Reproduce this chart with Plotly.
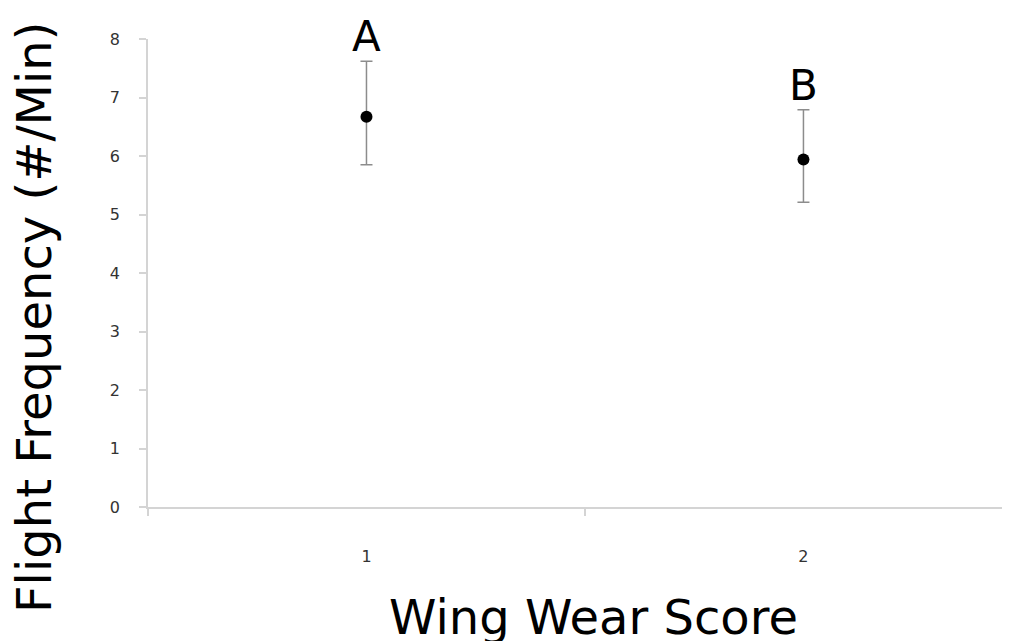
import plotly.graph_objects as go

# wing wear score groups and flight frequency (mean +/- error)
scores = [1, 2]
score_labels = ["1", "2"]
freq_mean = [6.67, 5.94]
err_upper = [0.95, 0.85]
err_lower = [0.82, 0.73]
group_letters = ["A", "B"]
y_ticks = [0, 1, 2, 3, 4, 5, 6, 7, 8]

AXIS_GREY = "#d4d4d4"
FONT = "DejaVu Sans"

fig = go.Figure()
fig.add_trace(
    go.Scatter(
        x=scores, y=freq_mean, mode="markers",
        marker=dict(color="black", size=12),
        error_y=dict(
            type="data", symmetric=False, array=err_upper, arrayminus=err_lower,
            color="#8c8c8c", thickness=1.5, width=6,
        ),
        showlegend=False,
    )
)

for x, m, e, letter in zip(scores, freq_mean, err_upper, group_letters):
    fig.add_annotation(
        x=x, y=m + e, text=letter, showarrow=False,
        xanchor="center", yanchor="bottom", yshift=-2,
        font=dict(family=FONT, size=42, color="black"),
    )

# axis titles placed as annotations (the originals sit off-centre)
fig.add_annotation(
    x=0.5115, xref="paper", y=-0.236, yref="paper", text="Wing Wear Score",
    showarrow=False, xanchor="center", yanchor="middle",
    font=dict(family=FONT, size=48, color="black"),
)
fig.add_annotation(
    x=-0.131, xref="paper", y=0.406, yref="paper",
    text="Flight Frequency (#/Min)", textangle=-90,
    showarrow=False, xanchor="center", yanchor="middle",
    font=dict(family=FONT, size=48, color="black"),
)

# the page body adds an 8px offset, so margins are trimmed to suit
fig.update_layout(
    width=1010, height=641,
    margin=dict(l=140, r=0, t=31, b=142),
    plot_bgcolor="white", paper_bgcolor="white",
    font=dict(family=FONT),
    xaxis=dict(
        range=[0.5, 2.491], tickvals=scores, ticktext=score_labels,
        ticks="", showgrid=False, zeroline=False, automargin=False,
        showline=True, linecolor=AXIS_GREY, linewidth=1.5,
        tickfont=dict(family=FONT, size=16, color="#333333"),
        ticklabelstandoff=34,
        minor=dict(tickvals=[0.5, 1.5], ticks="outside", ticklen=7,
                   tickcolor=AXIS_GREY, tickwidth=1.5),
    ),
    yaxis=dict(
        range=[0, 8], tickvals=y_ticks, ticks="outside", ticklen=7,
        tickcolor=AXIS_GREY, tickwidth=1.5, automargin=False,
        showgrid=False, zeroline=False,
        showline=True, linecolor=AXIS_GREY, linewidth=1.5,
        tickfont=dict(family=FONT, size=16, color="#333333"),
        ticklabelstandoff=16,
    ),
)

fig.write_html("out.html")
